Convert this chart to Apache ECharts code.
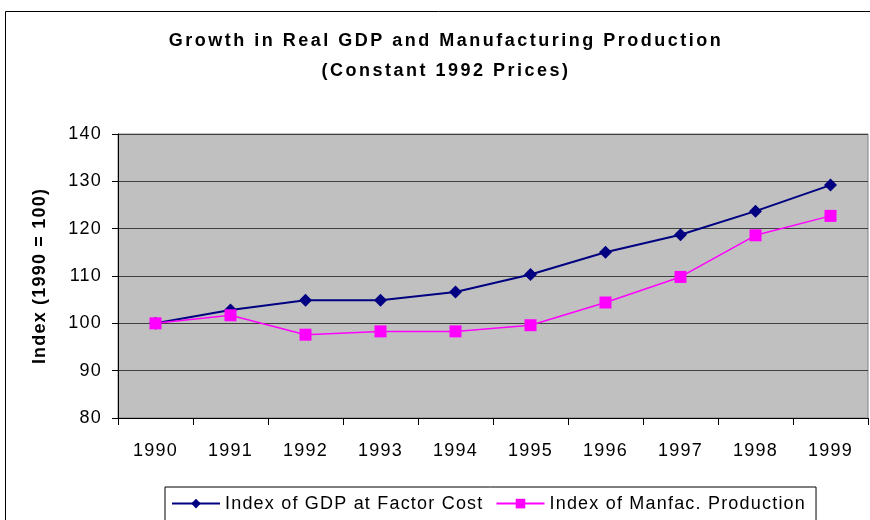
<!DOCTYPE html>
<html>
<head>
<meta charset="utf-8">
<script src="https://cdn.jsdelivr.net/npm/echarts@6/dist/echarts.min.js"></script>
<style>
  html, body { margin: 0; padding: 0; background: #fff; }
  #chart { width: 870px; height: 520px; }
</style>
</head>
<body>
<div id="chart"></div>
<script>
const years = ["1990", "1991", "1992", "1993", "1994", "1995", "1996", "1997", "1998", "1999"];
const gdpIndex = [100, 102.8, 104.9, 104.9, 106.6, 110.3, 115.0, 118.7, 123.7, 129.2];
const manufIndex = [100, 101.7, 97.6, 98.3, 98.3, 99.6, 104.4, 109.8, 118.6, 122.7];

// the original (Excel) text is spaced out; canvas letterSpacing copies that
const titleFont = "'Liberation Sans', sans-serif";
const bodyFont = "'Liberation Sans', Arial, sans-serif";
function spacingFor(font) {
  return font.indexOf("Arial") >= 0 ? 1.2 : 2.5;
}
(function () {
  const proto = CanvasRenderingContext2D.prototype;
  if (!("letterSpacing" in proto)) return;
  const fill = proto.fillText, stroke = proto.strokeText, measure = proto.measureText;
  proto.fillText = function (t, x, y, w) {
    this.letterSpacing = spacingFor(this.font) + "px";
    return w === undefined ? fill.call(this, t, x, y) : fill.call(this, t, x, y, w);
  };
  proto.strokeText = function (t, x, y, w) {
    this.letterSpacing = spacingFor(this.font) + "px";
    return w === undefined ? stroke.call(this, t, x, y) : stroke.call(this, t, x, y, w);
  };
  proto.measureText = function (t) {
    this.letterSpacing = "0px";
    const m = measure.call(this, t);
    const extra = String(t).length * spacingFor(this.font);
    return {
      width: m.width + extra,
      actualBoundingBoxAscent: m.actualBoundingBoxAscent,
      actualBoundingBoxDescent: m.actualBoundingBoxDescent,
      actualBoundingBoxLeft: m.actualBoundingBoxLeft,
      actualBoundingBoxRight: m.actualBoundingBoxRight + extra
    };
  };
})();

const chart = echarts.init(document.getElementById("chart"));

chart.setOption({
  animation: false,
  backgroundColor: "#fff",
  title: {
    text: "Growth in Real GDP and Manufacturing Production\n(Constant 1992 Prices)",
    left: 446,
    textAlign: "center",
    top: 21,
    padding: [5, 0, 5, 0],
    textStyle: { fontFamily: titleFont, fontSize: 18, fontWeight: "bold", color: "#000", lineHeight: 30 }
  },
  graphic: [
    {
      type: "rect",
      z: -10,
      shape: { x: 5.5, y: 11.5, width: 900, height: 600 },
      style: { fill: "none", stroke: "#000", lineWidth: 1 }
    }
  ],
  legend: {
    left: 165,
    top: 487,
    padding: [7, 10, 10, 6],
    itemWidth: 48,
    itemHeight: 12,
    itemGap: 12,
    backgroundColor: "#fff",
    borderColor: "#000",
    borderWidth: 1,
    borderRadius: 0,
    textStyle: { fontFamily: bodyFont, fontSize: 18, color: "#000" },
    data: ["Index of GDP at Factor Cost", "Index of Manfac. Production"]
  },
  grid: {
    left: 118,
    right: 2,
    top: 134,
    bottom: 102,
    show: true,
    backgroundColor: "#C0C0C0",
    borderColor: "#808080",
    borderWidth: 1
  },
  xAxis: {
    type: "category",
    data: years,
    boundaryGap: true,
    axisLine: { lineStyle: { color: "#000", width: 1 } },
    axisTick: { show: true, length: 7, lineStyle: { color: "#000" } },
    axisLabel: { fontFamily: bodyFont, fontSize: 18, color: "#000", margin: 23 }
  },
  yAxis: {
    type: "value",
    min: 80,
    max: 140,
    interval: 10,
    name: "Index (1990 = 100)",
    nameLocation: "middle",
    nameGap: 68,
    nameTextStyle: { fontFamily: bodyFont, fontSize: 18, fontWeight: "bold", color: "#000" },
    axisLine: { show: true, lineStyle: { color: "#000", width: 1 } },
    axisTick: { show: true, length: 6, lineStyle: { color: "#000" } },
    axisLabel: { fontFamily: bodyFont, fontSize: 18, color: "#000", margin: 16 },
    splitLine: { show: true, lineStyle: { color: "#404040", width: 1 } }
  },
  series: [
    {
      name: "Index of GDP at Factor Cost",
      type: "line",
      data: gdpIndex,
      symbol: "diamond",
      symbolSize: 13,
      lineStyle: { color: "#000080", width: 2 },
      itemStyle: { color: "#000080" }
    },
    {
      name: "Index of Manfac. Production",
      type: "line",
      data: manufIndex,
      symbol: "rect",
      symbolSize: 12,
      lineStyle: { color: "#FF00FF", width: 1.5 },
      itemStyle: { color: "#FF00FF" }
    }
  ]
});
</script>
</body>
</html>
